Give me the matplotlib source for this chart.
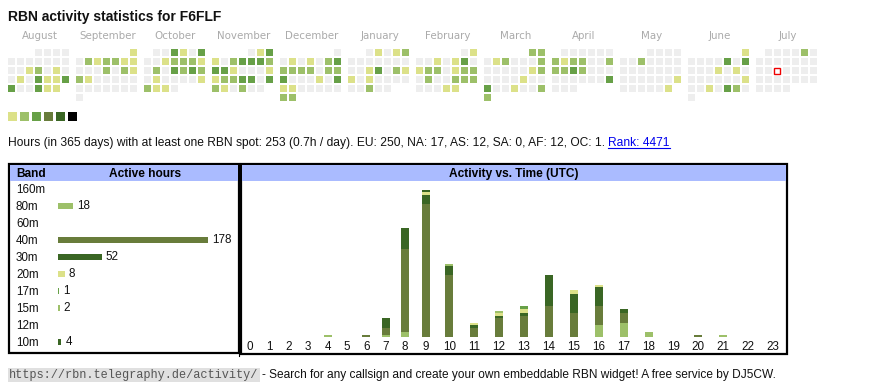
import matplotlib
matplotlib.use('Agg')
import matplotlib.pyplot as plt
from matplotlib.patches import Rectangle

W, H = 870, 390

# ---- data ----
months = ['August', 'September', 'October', 'November', 'December', 'January',
          'February', 'March', 'April', 'May', 'June', 'July']

# one string per calendar week (Mon..Sun), ' ' = no day, digit = activity level
aug = ['   0000', '0000000', '0012010', '0103113', '300311 ']
sep = ['      1', '0212211', '0002021', '2100000', '0000000', '0      ']
oct_ = [' 003103', '0012221', '0203232', '0100001', '2110   ']
nov = ['    013', '1023332', '3310001', '1223303', '210200 ']
dec = ['      0', '0101023', '2222022', '3000103', '1100000', '22     ']
jan = ['  01012', '0000000', '0013021', '1010000', '00200  ']
feb = ['     01', '0010130', '1220122', '0200222', '00011  ']
mar = ['     22', '0120002', '0000012', '0000100', '3001002', '2      ']
apr = [' 000000', '2122002', '2232000', '0000003', '000    ']
may = ['   0000', '0020000', '0000000', '0000001', '000001 ']
jun = ['      1', '0000303', '0001010', '0000001', '0010320', '0      ']
jul = [' 000020', '0000000', '0000000', '0000000', '0000   ']
calendar = [aug, sep, oct_, nov, dec, jan, feb, mar, apr, may, jun, jul]
today = (11, 2, 2)  # month index, week row, weekday

bands = ['160m', '80m', '60m', '40m', '30m', '20m', '17m', '15m', '12m', '10m']
band_hours = [0, 18, 0, 178, 52, 8, 1, 2, 0, 4]

hours = list(range(24))
act_80m = [0, 0, 0, 0, 1, 0, 0, 1, 2, 0, 0, 0, 0, 0, 0, 0, 5, 6, 2, 0, 0, 1, 0, 0]
act_40m = [0, 0, 0, 0, 0, 0, 1, 3, 35, 56, 26, 4, 8, 9, 13, 10, 8, 4, 0, 0, 1, 0, 0, 0]
act_30m = [0, 0, 0, 0, 0, 0, 0, 4, 9, 4, 4, 1, 1, 1, 11, 8, 8, 1, 0, 0, 0, 0, 0, 0]
act_20m = [0, 0, 0, 0, 0, 0, 0, 0, 0, 1, 0, 1, 1, 2, 0, 2, 1, 0, 0, 0, 0, 0, 0, 0]
act_17m = [0, 0, 0, 0, 0, 0, 0, 0, 0, 0, 0, 0, 0, 1, 0, 0, 0, 0, 0, 0, 0, 0, 0, 0]
act_15m = [0, 0, 0, 0, 0, 0, 0, 0, 0, 0, 1, 0, 1, 0, 0, 0, 0, 0, 0, 0, 0, 0, 0, 0]
act_10m = [0, 0, 0, 0, 0, 0, 0, 0, 0, 1, 0, 0, 0, 0, 2, 0, 0, 1, 0, 0, 0, 0, 0, 0]

summary = ('Hours (in 365 days) with at least one RBN spot: 253 (0.7h / day). '
           'EU: 250, NA: 17, AS: 12, SA: 0, AF: 12, OC: 1. ')
rank = 'Rank: 4471'

# ---- styles ----
level_colors = ['#eeeeee', '#dce189', '#9dc069', '#67a047', '#687c3b', '#3a6624', '#000000']
band_colors = {'160m': '#dce189', '80m': '#9dc069', '60m': '#67a047', '40m': '#687c3b',
               '30m': '#3a6624', '20m': '#dce189', '17m': '#67a047', '15m': '#9dc069',
               '12m': '#687c3b', '10m': '#3a6624'}
header_blue = '#aabbff'
sans = ['Liberation Sans', 'DejaVu Sans']

fig = plt.figure(figsize=(W / 100, H / 100), dpi=100)
ov = fig.add_axes([0, 0, 1, 1])
ov.set_xlim(0, W)
ov.set_ylim(H, 0)
ov.axis('off')

ov.text(8, 21, 'RBN activity statistics for F6FLF', fontsize=10.0, fontweight='bold',
        family=sans, color='#111111')

# calendar heatmap
for m, weeks in enumerate(calendar):
    x0 = 8 + 68 * m
    ov.text(x0 + 31.5, 39, months[m], ha='center', fontsize=7.4, color='#aaaaaa',
            family='DejaVu Sans')
    for r, week in enumerate(weeks):
        for d, ch in enumerate(week):
            if ch == ' ':
                continue
            x, y = x0 + 9 * d, 49 + 9 * r
            if (m, r, d) == today:
                ov.add_patch(Rectangle((x + 0.5, y + 0.5), 6, 6, facecolor='white',
                                       edgecolor='#ee0000', lw=1.0))
            else:
                ov.add_patch(Rectangle((x, y), 7, 7, facecolor=level_colors[int(ch)], lw=0))

for i, c in enumerate(level_colors[1:]):
    ov.add_patch(Rectangle((8 + 12 * i, 111.5), 9, 9, facecolor=c, lw=0))

t = ov.text(8, 146, summary, fontsize=8.65, family=sans, color='#111111')
fig.canvas.draw()
bb = t.get_window_extent()
ov.text(bb.x1, 146, rank, fontsize=8.65, family=sans, color='#0000ee')
rb = ov.texts[-1].get_window_extent(fig.canvas.get_renderer())
ov.plot([rb.x0, rb.x1], [147.5, 147.5], color='#0000ee', lw=0.8)

# table frames
ov.add_patch(Rectangle((9, 164), 230, 188.5, facecolor='none', edgecolor='black', lw=1.6))
ov.add_patch(Rectangle((241, 164), 546.5, 189.5, facecolor='none', edgecolor='black', lw=1.6))
ov.add_patch(Rectangle((10, 165), 228, 16, facecolor=header_blue, lw=0))
ov.add_patch(Rectangle((242, 165), 544, 16, facecolor=header_blue, lw=0))
ov.plot([239.5, 239.5], [353, 356], color='black', lw=0.8)
ov.text(16, 177, 'Band', fontsize=8.6, fontweight='bold', family=sans)
ov.text(145, 177, 'Active hours', ha='center', fontsize=8.6, fontweight='bold', family=sans)
ov.text(514, 177, 'Activity vs. Time (UTC)', ha='center', fontsize=8.6, fontweight='bold',
        family=sans)

for i, b in enumerate(bands):
    ov.text(16, 193 + 17 * i, b, fontsize=8.4, family=sans, color='#111111')

# band bars
px_per_hour = 0.843
bx = fig.add_axes([58 / W, 1 - 350.5 / H, 180 / W, 170 / H])
bx.patch.set_alpha(0)
bx.axis('off')
bx.set_xlim(0, 180 / px_per_hour)
bx.set_ylim(len(bands) - 0.5, -0.5)
bx.barh(range(len(bands)), band_hours, height=6 / 17,
        color=[band_colors[b] for b in bands])
for i, v in enumerate(band_hours):
    if v:
        bx.text(v + 4 / px_per_hour, i, str(v), va='center', fontsize=8.4, family=sans,
                color='#111111')

# activity vs time
col_w = [19.4] * 9 + [22.0] + [24.9] * 14
centers = []
edge = 240.3
for w in col_w:
    centers.append(edge + w / 2)
    edge += w

px_per_unit = 2.37
ax = fig.add_axes([240 / W, 1 - 337 / H, 548 / W, 156 / H])
ax.patch.set_alpha(0)
ax.axis('off')
ax.set_xlim(240, 788)
ax.set_ylim(0, 156 / px_per_unit)
stack = [('80m', act_80m), ('40m', act_40m), ('30m', act_30m), ('20m', act_20m),
         ('17m', act_17m), ('15m', act_15m), ('10m', act_10m)]
bottom = [0] * 24
for band, vals in stack:
    ax.bar(centers, vals, width=8, bottom=bottom, color=band_colors[band], lw=0)
    bottom = [a + b for a, b in zip(bottom, vals)]

for h, cx in zip(hours, centers):
    ov.text(cx, 350, str(h), ha='center', fontsize=8.4, family=sans, color='#111111')

# footer
ov.text(9, 378, 'https://rbn.telegraphy.de/activity/', fontsize=8.6, family='Liberation Mono',
        color='#555555', bbox=dict(facecolor='#e0e0e0', edgecolor='none', pad=1.0))
ov.text(262, 378, '- Search for any callsign and create your own embeddable RBN widget! '
        'A free service by DJ5CW.', fontsize=8.6, family=sans, color='#111111')

fig.savefig('out.png', dpi=100)
